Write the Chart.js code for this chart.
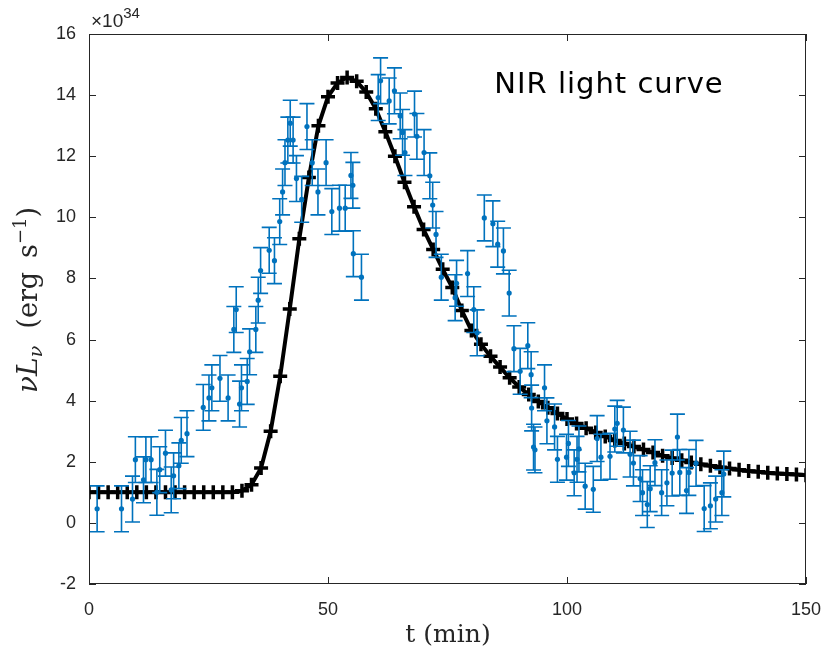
<!DOCTYPE html>
<html>
<head>
<meta charset="utf-8">
<script src="https://cdn.jsdelivr.net/npm/chart.js@4.4.0/dist/chart.umd.min.js"></script>
<style>
  html, body { margin: 0; padding: 0; background: #fff; }
</style>
</head>
<body>
<canvas id="nirChart" width="823" height="655"></canvas>
<script>
// observed NIR points (t in min, flux in 1e34 erg/s)
const obsTime = [1.7, 6.8, 9.1, 9.7, 11.4, 11.9, 13.0, 14.2, 14.8, 16.0,
  17.2, 17.7, 18.8, 19.3, 20.5, 23.9, 25.1, 25.7, 27.4, 29.1,
  30.3, 30.8, 31.5, 31.9, 33.1, 33.6, 34.9, 35.4, 35.9, 37.7,
  38.8, 39.9, 40.5, 41.0, 41.6, 42.1, 42.7, 43.4, 44.5, 45.6,
  46.7, 47.9, 49.6, 50.8, 52.4, 53.6, 54.8, 55.2, 55.3, 57.0,
  60.5, 61.0, 62.8, 63.9, 65.1, 65.6, 66.1, 68.1, 68.6, 70.1,
  71.3, 71.9, 72.6, 73.7, 76.6, 76.9, 79.2, 80.5, 81.2, 82.7,
  84.5, 85.5, 86.7, 87.9, 88.9, 90.2, 91.8, 92.5, 92.6, 93.0,
  93.3, 95.3, 95.8, 97.4, 98.0, 99.9, 100.3, 101.5, 102.1, 102.5,
  103.8, 105.5, 106.3, 107.1, 109.0, 110.0, 110.5, 111.8, 113.2, 113.9,
  115.3, 115.8, 116.8, 117.4, 118.4, 119.8, 120.9, 122.0, 123.1, 123.6,
  125.0, 125.5, 127.0, 128.7, 130.0, 131.1, 132.4, 132.8];
const obsFlux = [0.46, 0.46, 0.78, 2.07, 1.41, 2.07, 2.07, 1.0, 1.74, 2.28,
  1.08, 1.54, 1.87, 2.7, 2.92, 3.78, 4.09, 4.42, 4.73, 4.09,
  6.33, 6.98, 3.89, 4.42, 4.63, 5.6, 6.33, 7.29, 8.26, 8.92,
  8.58, 9.86, 10.83, 11.79, 12.53, 13.08, 12.53, 11.27, 10.59, 12.97,
  11.79, 10.83, 11.79, 10.19, 10.3, 10.3, 11.37, 11.05, 8.81, 8.04,
  13.92, 14.47, 13.81, 14.14, 13.32, 12.78, 12.12, 13.38, 12.65, 12.12,
  11.36, 10.4, 9.44, 8.04, 7.37, 7.84, 8.16, 6.98, 6.22, 9.98,
  9.79, 9.12, 8.9, 7.52, 5.7, 4.96, 5.8, 4.85, 3.76, 2.48,
  2.39, 4.42, 3.34, 3.14, 2.08, 2.15, 2.6, 1.64, 2.08, 2.42,
  1.2, 1.1, 2.76, 2.15, 2.18, 3.07, 3.26, 3.04, 2.25, 1.96,
  1.45, 0.99, 0.6, 1.12, 1.97, 0.99, 1.31, 1.63, 2.81, 1.65,
  1.06, 1.65, 1.95, 0.47, 0.56, 0.78, 0.99, 1.6];
const obsErr = 0.75; // half length of error bars, same for all points

// model light curve
const modelTime = [0, 2, 4, 6, 8, 10, 12, 14, 16, 18, 20, 22, 24, 26, 28, 30,
  32, 34, 36, 38, 40, 42, 44, 46, 48, 50, 52, 54, 56, 58, 60, 62, 64, 66, 68, 70,
  72, 74, 76, 78, 80, 82, 84, 86, 88, 90, 92, 94, 96, 98, 100, 102, 104, 106, 108, 110,
  112, 114, 116, 118, 120, 122, 124, 126, 128, 130, 132, 134, 136, 138, 140, 142, 144, 146, 148, 150];
const modelFlux = [1, 1, 1, 1, 1, 1, 1, 1, 1, 1, 1, 1, 1, 1, 1, 1,
  1.05, 1.25, 1.8, 3.0, 4.8, 7.0, 9.3, 11.3, 13.0, 13.95,
  14.4, 14.58, 14.45, 14.1, 13.55, 12.8, 12.0, 11.15, 10.35, 9.6,
  8.95, 8.3, 7.7, 6.95, 6.3, 5.85, 5.45, 5.1, 4.75, 4.45,
  4.2, 3.97, 3.77, 3.58, 3.4, 3.25, 3.1, 2.96, 2.83, 2.7,
  2.6, 2.5, 2.4, 2.3, 2.2, 2.12, 2.05, 1.98, 1.92, 1.87,
  1.82, 1.78, 1.74, 1.7, 1.67, 1.64, 1.62, 1.6, 1.58, 1.56];

const xTicks = [0, 50, 100, 150];
const yTicks = [-2, 0, 2, 4, 6, 8, 10, 12, 14, 16];

const blue = "#0072BD";
const axisColor = "#262626";

// error bars, drawn right after the model line so the blue dots stay on top
const errorBars = {
  id: "errorBars",
  afterDatasetDraw(chart, args) {
    if (args.index !== 0) return;
    const { ctx, chartArea, scales } = chart;
    const x = scales.x, y = scales.y;
    ctx.save();
    ctx.beginPath();
    ctx.rect(chartArea.left, chartArea.top, chartArea.width, chartArea.height);
    ctx.clip();
    ctx.strokeStyle = blue;
    ctx.lineWidth = 1.6;
    obsTime.forEach((t, i) => {
      const px = x.getPixelForValue(t);
      const top = y.getPixelForValue(obsFlux[i] + obsErr);
      const bot = y.getPixelForValue(obsFlux[i] - obsErr);
      ctx.beginPath();
      ctx.moveTo(px, top); ctx.lineTo(px, bot);
      ctx.moveTo(px - 7.5, top); ctx.lineTo(px + 7.5, top);
      ctx.moveTo(px - 7.5, bot); ctx.lineTo(px + 7.5, bot);
      ctx.stroke();
    });
    ctx.restore();
  },
};

// matlab style box with inward ticks
const axisBox = {
  id: "axisBox",
  afterDraw(chart) {
    const { ctx, chartArea: a, scales } = chart;
    const len = 7;
    ctx.save();
    ctx.strokeStyle = axisColor;
    ctx.lineWidth = 1;
    ctx.strokeRect(a.left + 0.5, a.top + 0.5, a.width - 1, a.height - 1);
    ctx.beginPath();
    xTicks.forEach((v) => {
      const px = Math.round(scales.x.getPixelForValue(v)) + 0.5;
      ctx.moveTo(px, a.bottom); ctx.lineTo(px, a.bottom - len);
      ctx.moveTo(px, a.top); ctx.lineTo(px, a.top + len);
    });
    yTicks.forEach((v) => {
      const py = Math.round(scales.y.getPixelForValue(v)) + 0.5;
      ctx.moveTo(a.left, py); ctx.lineTo(a.left + len, py);
      ctx.moveTo(a.right, py); ctx.lineTo(a.right - len, py);
    });
    ctx.stroke();
    ctx.restore();
  },
};

// helper to write a row of text pieces (for sub/superscripts)
function drawPieces(ctx, pieces, cx, cy) {
  let total = 0;
  pieces.forEach((p) => { ctx.font = p.font; total += ctx.measureText(p.text).width; });
  let xPos = cx - total / 2;
  pieces.forEach((p) => {
    ctx.font = p.font;
    ctx.fillText(p.text, xPos, cy + (p.dy || 0));
    xPos += ctx.measureText(p.text).width;
  });
}

const labels = {
  id: "labels",
  afterDraw(chart) {
    const { ctx, chartArea: a } = chart;
    ctx.save();
    ctx.fillStyle = axisColor;
    ctx.textBaseline = "alphabetic";
    ctx.textAlign = "left";

    // exponent above the y axis
    ctx.font = "19px 'Liberation Sans', Arial, sans-serif";
    ctx.fillText("\u00d710", a.left + 2, 27);
    const w = ctx.measureText("\u00d710").width;
    ctx.font = "15px 'Liberation Sans', Arial, sans-serif";
    ctx.fillText("34", a.left + 2 + w, 18);

    // x axis title
    const serif = "'DejaVu Serif', 'Liberation Serif', serif";
    drawPieces(ctx, [{ text: "t (min)", font: "25px " + serif }], 448, 642);

    // y axis title, rotated
    ctx.translate(37, 300);
    ctx.rotate(-Math.PI / 2);
    drawPieces(ctx, [
      { text: "\u03bd", font: "italic 28px " + serif },
      { text: "L", font: "italic 28px " + serif },
      { text: "\u03bd", font: "italic 19px " + serif, dy: 5 },
      { text: "  (erg\u2009 s", font: "27px " + serif },
      { text: "\u22121", font: "18px " + serif, dy: -11 },
      { text: ")", font: "27px " + serif },
    ], 0, 0);
    ctx.restore();

    // annotation
    ctx.save();
    ctx.fillStyle = "#000";
    ctx.font = "29px 'DejaVu Sans', 'Noto Sans', sans-serif";
    ctx.letterSpacing = "1px";
    ctx.textAlign = "center";
    ctx.fillText("NIR light curve", 609, 93);
    ctx.restore();
  },
};

const ctx = document.getElementById("nirChart");

new Chart(ctx, {
  type: "scatter",
  data: {
    datasets: [
      {
        label: "model",
        data: modelTime.map((t, i) => ({ x: t, y: modelFlux[i] })),
        showLine: true,
        borderColor: "#000",
        borderWidth: 4,
        pointStyle: "cross",
        pointRadius: 7,
        pointBorderWidth: 3.5,
        pointBorderColor: "#000",
        order: 2,
      },
      {
        label: "NIR",
        data: obsTime.map((t, i) => ({ x: t, y: obsFlux[i] })),
        showLine: false,
        pointRadius: 2.6,
        pointBorderWidth: 0,
        backgroundColor: blue,
        order: 1,
      },
    ],
  },
  options: {
    responsive: false,
    animation: false,
    layout: { padding: { left: 0, right: 17, top: 34, bottom: 0 } },
    plugins: { legend: { display: false }, tooltip: { enabled: false } },
    scales: {
      x: {
        type: "linear",
        min: 0,
        max: 150,
        afterBuildTicks: (s) => { s.ticks = xTicks.map((v) => ({ value: v })); },
        afterFit: (s) => { s.height = 71; s.paddingLeft = 0; s.paddingRight = 0; },
        grid: { display: false },
        border: { display: false },
        ticks: {
          padding: 7,
          color: axisColor,
          font: { family: "'Liberation Sans', Arial, sans-serif", size: 18 },
        },
      },
      y: {
        min: -2,
        max: 16,
        afterBuildTicks: (s) => { s.ticks = yTicks.map((v) => ({ value: v })); },
        afterFit: (s) => { s.width = 89; s.paddingTop = 0; s.paddingBottom = 0; },
        grid: { display: false },
        border: { display: false },
        ticks: {
          padding: 5,
          color: axisColor,
          font: { family: "'Liberation Sans', Arial, sans-serif", size: 18 },
        },
      },
    },
  },
  plugins: [errorBars, axisBox, labels],
});
</script>
</body>
</html>
